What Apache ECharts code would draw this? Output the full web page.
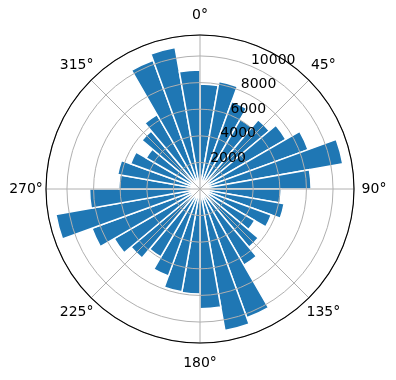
<!DOCTYPE html>
<html>
<head>
<meta charset="utf-8">
<script src="https://cdn.jsdelivr.net/npm/echarts@6/dist/echarts.min.js"></script>
<style>
  html, body { margin: 0; padding: 0; background: #fff; }
  #chart { width: 396px; height: 380px; }
</style>
</head>
<body>
<div id="chart"></div>
<script>
// 36 sectors of 10 degrees, clockwise from north
const directions = []
for (let d = 0; d < 360; d += 10) directions.push(String(d))

const counts = [
  7900, 8200, 7000, 6050, 6800, 7450, 8650, 10900, 8350,
  6100, 6420, 5700, 4750, 5720, 6600, 10300, 10800, 9000,
  7900, 7850, 6950, 5900, 6780, 7450, 8650, 11000, 8300,
  6100, 6280, 5550, 4670, 5700, 6450, 10300, 10800, 8950
]

const radialTicks = [2000, 4000, 6000, 8000, 10000]
const angleTicks = [0, 45, 90, 135, 180, 225, 270, 315]

const rMax = 11575
const center = [200, 189]
const radius = 154
const font = { fontFamily: 'DejaVu Sans', fontSize: 14, color: '#000' }

const chart = echarts.init(document.getElementById('chart'))

const option = {
  animation: false,
  backgroundColor: '#fff',
  polar: [
    { center: center, radius: radius },
    { center: center, radius: radius },
    { center: center, radius: radius }
  ],
  angleAxis: [
    {
      // bars
      polarIndex: 0,
      type: 'category',
      data: directions,
      startAngle: 90,
      clockwise: true,
      show: false
    },
    {
      // grid + angle labels
      polarIndex: 1,
      type: 'value',
      min: 0,
      max: 360,
      interval: 45,
      startAngle: 90,
      clockwise: true,
      z: 6,
      axisLine: { show: true, lineStyle: { color: '#000', width: 1.1 } },
      axisTick: { show: false },
      splitLine: { show: true, lineStyle: { color: '#b0b0b0', width: 1 } },
      axisLabel: {
        margin: 19,
        formatter: function (v) {
          return angleTicks.indexOf(v) >= 0 ? '{c|' + v + '°}' : ''
        },
        rich: {
          c: Object.assign({ width: 2, height: 2, lineHeight: 2, align: 'center', verticalAlign: 'middle' }, font)
        }
      }
    },
    {
      // only used to turn the radial labels to 22.5 deg
      polarIndex: 2,
      type: 'value',
      min: 0,
      max: 360,
      startAngle: 67.5,
      show: false
    }
  ],
  radiusAxis: [
    {
      polarIndex: 0,
      type: 'value',
      min: 0,
      max: rMax,
      show: false
    },
    {
      polarIndex: 1,
      type: 'value',
      min: 0,
      max: rMax,
      interval: 2000,
      z: 5,
      axisLine: { show: false },
      axisTick: { show: false },
      axisLabel: { show: false },
      splitLine: { show: true, lineStyle: { color: '#b0b0b0', width: 1 } }
    },
    {
      polarIndex: 2,
      type: 'value',
      min: 0,
      max: rMax,
      interval: 2000,
      z: 7,
      axisLine: { show: false },
      axisTick: { show: false },
      splitLine: { show: false },
      axisLabel: {
        margin: 0,
        align: 'left',
        verticalAlign: 'bottom',
        formatter: function (v) {
          return radialTicks.indexOf(v) >= 0 ? '{r|' + v + '}' : ''
        },
        rich: {
          r: Object.assign({ lineHeight: 12 }, font)
        }
      }
    }
  ],
  series: [
    {
      type: 'bar',
      coordinateSystem: 'polar',
      polarIndex: 0,
      data: counts,
      barCategoryGap: '0%',
      z: 2,
      itemStyle: { color: '#1f77b4', borderColor: '#fff', borderWidth: 1.5 }
    }
  ]
}

chart.setOption(option)
</script>
</body>
</html>
